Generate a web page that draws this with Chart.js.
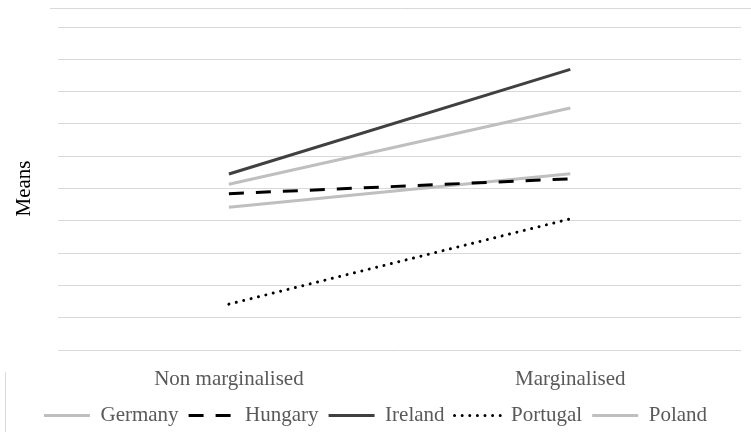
<!DOCTYPE html>
<html>
<head>
<meta charset="utf-8">
<script src="https://cdn.jsdelivr.net/npm/chart.js@4/dist/chart.umd.min.js"></script>
<style>
  html, body { margin: 0; padding: 0; background: #fff; }
  #wrap { width: 751px; height: 439px; }
</style>
</head>
<body>
<div id="wrap"><canvas id="meansChart" width="751" height="439"></canvas></div>
<script>
// categories + means per country
const groups = ['Non marginalised', 'Marginalised'];
const germany = [5.13, 7.49];
const hungary = [4.84, 5.30];
const ireland = [5.45, 8.69];
const portugal = [1.42, 4.06];
const poland = [4.42, 5.46];

const serif = '"Liberation Serif", "Times New Roman", serif';

// bits of the outer frame that show in the picture
const framePlugin = {
    id: 'frameBits',
    afterDraw(chart) {
        const c = chart.ctx;
        c.save();
        c.strokeStyle = '#d9d9d9';
        c.lineWidth = 1;
        c.beginPath();
        c.moveTo(50, 8.5);
        c.lineTo(751, 8.5);
        c.moveTo(5.5, 372);
        c.lineTo(5.5, 432);
        c.stroke();
        c.restore();
    }
};

function line(label, data, color, dash, cap) {
    return {
        label: label,
        data: data,
        borderColor: color,
        backgroundColor: color,
        borderWidth: 3,
        borderDash: dash,
        borderCapStyle: cap,
        pointRadius: 0,
        pointHoverRadius: 0,
        tension: 0
    };
}

new Chart(document.getElementById('meansChart'), {
    type: 'line',
    data: {
        labels: groups,
        datasets: [
            line('Germany', germany, '#bfbfbf', [], 'butt'),
            line('Hungary', hungary, '#000000', [15, 12], 'butt'),
            line('Ireland', ireland, '#404040', [], 'butt'),
            line('Portugal', portugal, '#000000', [0.01, 7.6], 'round'),
            line('Poland', poland, '#bfbfbf', [], 'butt')
        ]
    },
    options: {
        responsive: false,
        animation: false,
        devicePixelRatio: 1,
        layout: { padding: { top: 27, right: 10, left: 10, bottom: 3 } },
        plugins: {
            tooltip: { enabled: false },
            legend: {
                position: 'bottom',
                labels: {
                    usePointStyle: true,
                    pointStyle: 'line',
                    pointStyleWidth: 46,
                    color: '#595959',
                    font: { family: serif, size: 21 },
                    padding: 10,
                    generateLabels(chart) {
                        // keep the dash pattern of each line in the legend
                        const items = Chart.defaults.plugins.legend.labels.generateLabels(chart);
                        items.forEach(it => {
                            const ds = chart.data.datasets[it.datasetIndex];
                            it.lineDash = ds.borderDash;
                            it.lineCap = ds.borderCapStyle;
                            it.lineWidth = ds.borderWidth;
                            it.strokeStyle = ds.borderColor;
                        });
                        return items;
                    }
                }
            }
        },
        scales: {
            x: {
                offset: true,
                grid: { display: false },
                border: { display: false },
                ticks: {
                    color: '#595959',
                    font: { family: serif, size: 21 },
                    padding: 9
                },
                afterFit(scale) { scale.height = 45; }
            },
            y: {
                min: 0,
                max: 10,
                ticks: { display: false, stepSize: 1 },
                grid: { color: '#d9d9d9', lineWidth: 1, drawTicks: false },
                border: { display: false },
                title: {
                    display: true,
                    text: 'Means',
                    color: '#000000',
                    font: { family: serif, size: 21 },
                    padding: { top: 2, bottom: 21 }
                }
            }
        }
    },
    plugins: [framePlugin]
});
</script>
</body>
</html>
